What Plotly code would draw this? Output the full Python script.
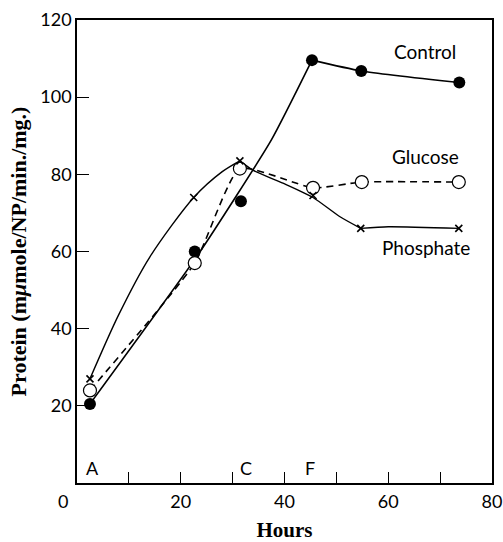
import plotly.graph_objects as go

# Measured points (hours, protein)
control_h = [2.5, 22.7, 31.6, 45.3, 54.8, 73.7]
control_p = [20.5, 60.0, 73.0, 109.6, 106.8, 103.8]

glucose_h = [2.5, 22.7, 31.4, 45.5, 54.9, 73.6]
glucose_p = [24.0, 57.0, 81.5, 76.5, 78.0, 78.0]

phosphate_h = [2.5, 22.5, 31.4, 45.5, 54.7, 73.6]
phosphate_p = [27.0, 74.0, 83.5, 74.5, 66.0, 66.0]

# Hand-drawn smooth curves, traced in pieces
control_rise_h = [2.5, 23.5, 37.5, 45.3]
control_rise_p = [20.5, 59.5, 89.0, 109.6]
control_plateau_h = [45.3, 54.8, 73.7]
control_plateau_p = [109.6, 106.8, 103.8]

phosphate_rise_h = [2.5, 8.0, 14.0, 22.5, 28.0, 31.4]
phosphate_rise_p = [27.0, 43.5, 58.5, 74.0, 80.7, 83.5]
phosphate_fall_h = [31.4, 33.9, 39.7, 45.5, 50.7, 54.7]
phosphate_fall_p = [83.5, 81.1, 77.7, 74.0, 69.0, 66.0]
phosphate_tail_h = [54.7, 60.0, 73.6]
phosphate_tail_p = [66.0, 66.4, 66.0]

# Series names and label positions
series_labels = ["Control", "Glucose", "Phosphate"]
label_h = [67.1, 67.1, 67.3]
label_p = [111.8, 84.6, 61.0]

# Time-point letters along the base
phase_letters = ["A", "C", "F"]
phase_h = [3.0, 32.5, 45.0]
phase_p = [4.0, 4.0, 4.0]

x_ticks = [10, 20, 30, 40, 50, 60, 70, 80]
x_ticktext = ["", "20", "", "40", "", "60", "", "80"]
y_ticks = [20, 40, 60, 80, 100, 120]
y_ticktext = ["20", "40", "60", "80", "100", "120"]

SANS = "Lato, 'Open Sans', sans-serif"
SERIF = "'Liberation Serif', 'DejaVu Serif', serif"


def curve(xs, ys, dash="solid", width=1.5, smoothing=0.6):
    return go.Scatter(x=xs, y=ys, mode="lines", hoverinfo="skip",
                      line=dict(color="black", width=width, dash=dash,
                                shape="spline", smoothing=smoothing))


fig = go.Figure()

fig.add_trace(curve(control_rise_h, control_rise_p, width=1.6, smoothing=0.5))
fig.add_trace(curve(control_plateau_h, control_plateau_p, width=1.6, smoothing=0.6))
fig.add_trace(curve(glucose_h, glucose_p, dash="7px,5px", width=1.6, smoothing=0.5))
fig.add_trace(curve(phosphate_rise_h, phosphate_rise_p, width=1.4, smoothing=0.8))
fig.add_trace(curve(phosphate_fall_h, phosphate_fall_p, width=1.4, smoothing=0.6))
fig.add_trace(curve(phosphate_tail_h, phosphate_tail_p, width=1.4, smoothing=0.6))

fig.add_trace(go.Scatter(
    x=control_h, y=control_p, mode="markers", name="Control",
    marker=dict(symbol="circle", size=12, color="black")))
fig.add_trace(go.Scatter(
    x=glucose_h, y=glucose_p, mode="markers", name="Glucose",
    marker=dict(symbol="circle", size=13, color="white",
                line=dict(color="black", width=1.2))))
fig.add_trace(go.Scatter(
    x=phosphate_h, y=phosphate_p, mode="markers", name="Phosphate",
    marker=dict(symbol="x-thin", size=7, color="black",
                line=dict(color="black", width=1.6))))

for txt, hx, py in zip(series_labels, label_h, label_p):
    fig.add_annotation(x=hx, y=py, text=txt, showarrow=False,
                       font=dict(family=SANS, size=19, color="black"))

for txt, hx, py in zip(phase_letters, phase_h, phase_p):
    fig.add_annotation(x=hx, y=py, text=txt, showarrow=False,
                       font=dict(family=SANS, size=18, color="black"))

# shared origin label
fig.add_annotation(x=0, y=0, xref="x", yref="y", text="0", showarrow=False,
                   xshift=-14, yshift=-18,
                   font=dict(family=SANS, size=18, color="black"))

fig.update_layout(
    width=503, height=542,
    margin=dict(l=77, r=11, t=20, b=59),
    paper_bgcolor="white", plot_bgcolor="white",
    showlegend=False,
    xaxis=dict(
        range=[0, 80], tickvals=x_ticks, ticktext=x_ticktext,
        ticks="inside", ticklen=11, tickwidth=1.2, tickcolor="black",
        showline=True, linecolor="black", linewidth=1.5, mirror=True,
        showgrid=False, zeroline=False, ticklabelstandoff=2, automargin=False,
        tickfont=dict(family=SANS, size=18, color="black"),
        title=dict(text="<b>Hours</b>", standoff=18,
                   font=dict(family=SERIF, size=21, color="black")),
    ),
    yaxis=dict(
        range=[0, 120], tickvals=y_ticks, ticktext=y_ticktext,
        ticks="inside", ticklen=12, tickwidth=1.2, tickcolor="black",
        showline=True, linecolor="black", linewidth=1.5, mirror=True,
        showgrid=False, zeroline=False, automargin=False,
        tickfont=dict(family=SANS, size=18, color="black"),
        title=dict(text="<b>Protein (m<i>μ</i>mole/NP/min./mg.)</b>", standoff=8,
                   font=dict(family=SERIF, size=22, color="black")),
    ),
)

fig.write_html("out.html")
